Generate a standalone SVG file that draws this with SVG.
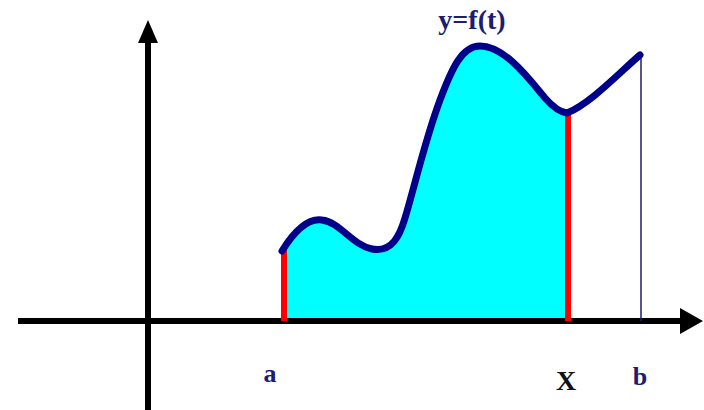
<svg xmlns="http://www.w3.org/2000/svg" width="704" height="410" viewBox="0 0 704 410">
<style>
.lbl{font-family:"Liberation Serif","Times New Roman",serif;font-weight:bold;}
.navy{fill:#1c1c70;}
.axis{stroke:#000;stroke-width:6;fill:none;}
.red{stroke:#ff0000;stroke-width:6;}
</style>
<rect width="704" height="410" fill="#fff"/>
<g id="area">
<path d="M284,321 L284,250 C297,230 308,218 322,220 C340,222 352,245 372,249 C392,253 400,235 405,218 C415,185 425,140 440,100 C452,68 462,46 480,46 C505,46 530,80 545,98 C552,106 559,112 568,113 L568,321 Z" fill="#00ffff"/>
</g>
<g id="axes">
<line class="axis" x1="18" y1="321" x2="684" y2="321"/>
<polygon points="680,308 703,321 680,334" fill="#000"/>
<line class="axis" x1="148" y1="410" x2="148" y2="38"/>
<polygon points="148,20 138,43 158,43" fill="#000"/>
</g>
<g id="bounds">
<line class="red" x1="284" y1="250" x2="284" y2="321"/>
<line class="red" x1="568" y1="113" x2="568" y2="321"/>
<line x1="641" y1="55" x2="641" y2="321" stroke="#1c1c70" stroke-width="1.5"/>
</g>
<g id="curve">
<path d="M282,251 C295,230 308,218 322,220 C340,222 352,245 372,249 C392,253 400,235 405,218 C415,185 425,140 440,100 C452,68 462,46 480,46 C505,46 530,80 545,98 C552,106 559,112 567,113 C590,104 620,72 640,55" fill="none" stroke="#00008a" stroke-width="7" stroke-linejoin="round" stroke-linecap="round"/>
</g>
<g id="labels">
<text class="lbl navy" x="472" y="29" font-size="28" text-anchor="middle">y=f(t)</text>
<text class="lbl navy" x="270" y="382" font-size="26" text-anchor="middle">a</text>
<text class="lbl" x="566" y="390" font-size="28" text-anchor="middle" fill="#111">X</text>
<text class="lbl navy" x="640" y="385" font-size="26" text-anchor="middle">b</text>
</g>
</svg>
